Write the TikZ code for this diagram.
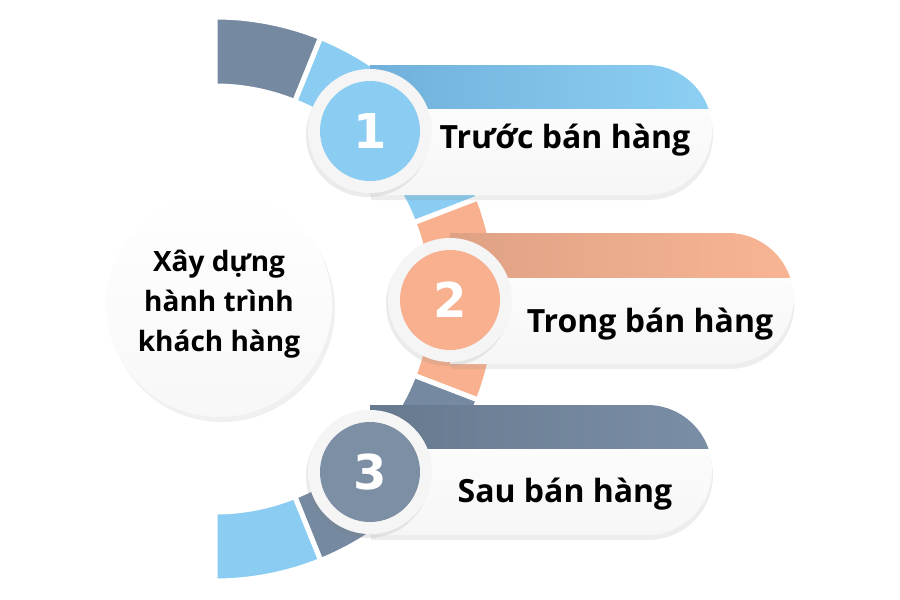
\documentclass[tikz,border=0pt]{standalone}
\usepackage{fontspec}
\setmainfont{Open Sans}
\newfontfamily\chiffres{DejaVu Sans}
\usetikzlibrary{shadows}

\definecolor{gris}{HTML}{7589A0}
\definecolor{bleu}{HTML}{8BCDF2}
\definecolor{saumon}{HTML}{F8B08E}
\definecolor{bandebleuA}{HTML}{70B0DA}
\definecolor{bandebleuB}{HTML}{8DD0F4}
\definecolor{bandesaumonA}{HTML}{DFA185}
\definecolor{bandesaumonB}{HTML}{F8B594}
\definecolor{bandegrisA}{HTML}{66798F}
\definecolor{bandegrisB}{HTML}{7A8EA5}

\tikzset{segment/.style = {fill=#1, draw=white, line width=5pt},
         carte/.style = {top color=white, bottom color=gray!7,
                         drop shadow={opacity=.14, shadow xshift=1pt, shadow yshift=-5pt}},
         bande/.style 2 args = {left color=#1, right color=#2},
         anneau/.style = {circle, minimum size=124pt, inner sep=0pt, fill=gray!8,
                          drop shadow={opacity=.16, shadow xshift=-2pt, shadow yshift=-4pt}},
         pastille/.style = {circle, minimum size=100pt, inner sep=0pt, fill=#1,
                            text=white, font=\chiffres\bfseries\fontsize{48}{48}\selectfont},
         etiquette/.style = {anchor=base, font=\bfseries\fontsize{32}{38}\selectfont},
         centre/.style = {circle, minimum size=226pt, inner sep=0pt, align=center,
                          top color=white, bottom color=gray!6,
                          font=\bfseries\fontsize{28}{40}\selectfont,
                          drop shadow={opacity=.12, shadow xshift=3pt, shadow yshift=-5pt}}
        }

\begin{document}
\begin{tikzpicture}[x=1pt, y=-1pt]
  \useasboundingbox (0,0) rectangle (900,600);

  % anneau
  \begin{scope}[shift={(215,299)}]
    \path[segment=gris]   (-90:213) arc[start angle=-90, end angle=-68, radius=213]
                          -- (-68:282) arc[start angle=-68, end angle=-90, radius=282] -- cycle;
    \path[segment=bleu]   (-68:213) arc[start angle=-68, end angle=-21, radius=213]
                          -- (-21:282) arc[start angle=-21, end angle=-68, radius=282] -- cycle;
    \path[segment=saumon] (-21:213) arc[start angle=-21, end angle=21, radius=213]
                          -- (21:282) arc[start angle=21, end angle=-21, radius=282] -- cycle;
    \path[segment=gris]   (21:213) arc[start angle=21, end angle=68, radius=213]
                          -- (68:282) arc[start angle=68, end angle=21, radius=282] -- cycle;
    \path[segment=bleu]   (68:213) arc[start angle=68, end angle=90, radius=213]
                          -- (90:282) arc[start angle=90, end angle=68, radius=282] -- cycle;
  \end{scope}

  \node[centre] (c) at (219,304) {Xây dựng\\hành trình\\khách hàng};

  % etape 1
  \path[carte] (370,65) -- (647,65) arc[start angle=-90, end angle=90, radius=65]
               -- (370,195) -- cycle;
  \begin{scope}
    \clip (370,65) -- (647,65) arc[start angle=-90, end angle=90, radius=65]
          -- (370,195) -- cycle;
    \shade[bande={bandebleuA}{bandebleuB}] (370,65) rectangle (712,108);
  \end{scope}
  \node[anneau] (a1) at (370,131) {};
  \node[pastille=bleu] (n1) at (a1) {1};
  \node[etiquette] (t1) at (565,148) {Trước bán hàng};

  % etape 2
  \path[carte] (450,233) -- (728,233) arc[start angle=-90, end angle=90, radius=65.5]
               -- (450,364) -- cycle;
  \begin{scope}
    \clip (450,233) -- (728,233) arc[start angle=-90, end angle=90, radius=65.5]
          -- (450,364) -- cycle;
    \shade[bande={bandesaumonA}{bandesaumonB}] (450,233) rectangle (794,277);
  \end{scope}
  \node[anneau] (a2) at (450,300) {};
  \node[pastille=saumon] (n2) at (a2) {2};
  \node[etiquette] (t2) at (650,332) {Trong bán hàng};

  % etape 3
  \path[carte] (370,405) -- (647,405) arc[start angle=-90, end angle=90, radius=65]
               -- (370,535) -- cycle;
  \begin{scope}
    \clip (370,405) -- (647,405) arc[start angle=-90, end angle=90, radius=65]
          -- (370,535) -- cycle;
    \shade[bande={bandegrisA}{bandegrisB}] (370,405) rectangle (712,448);
  \end{scope}
  \node[anneau] (a3) at (370,472) {};
  \node[pastille=gris!95] (n3) at (a3) {3};
  \node[etiquette] (t3) at (565,502) {Sau bán hàng};
\end{tikzpicture}
\end{document}
